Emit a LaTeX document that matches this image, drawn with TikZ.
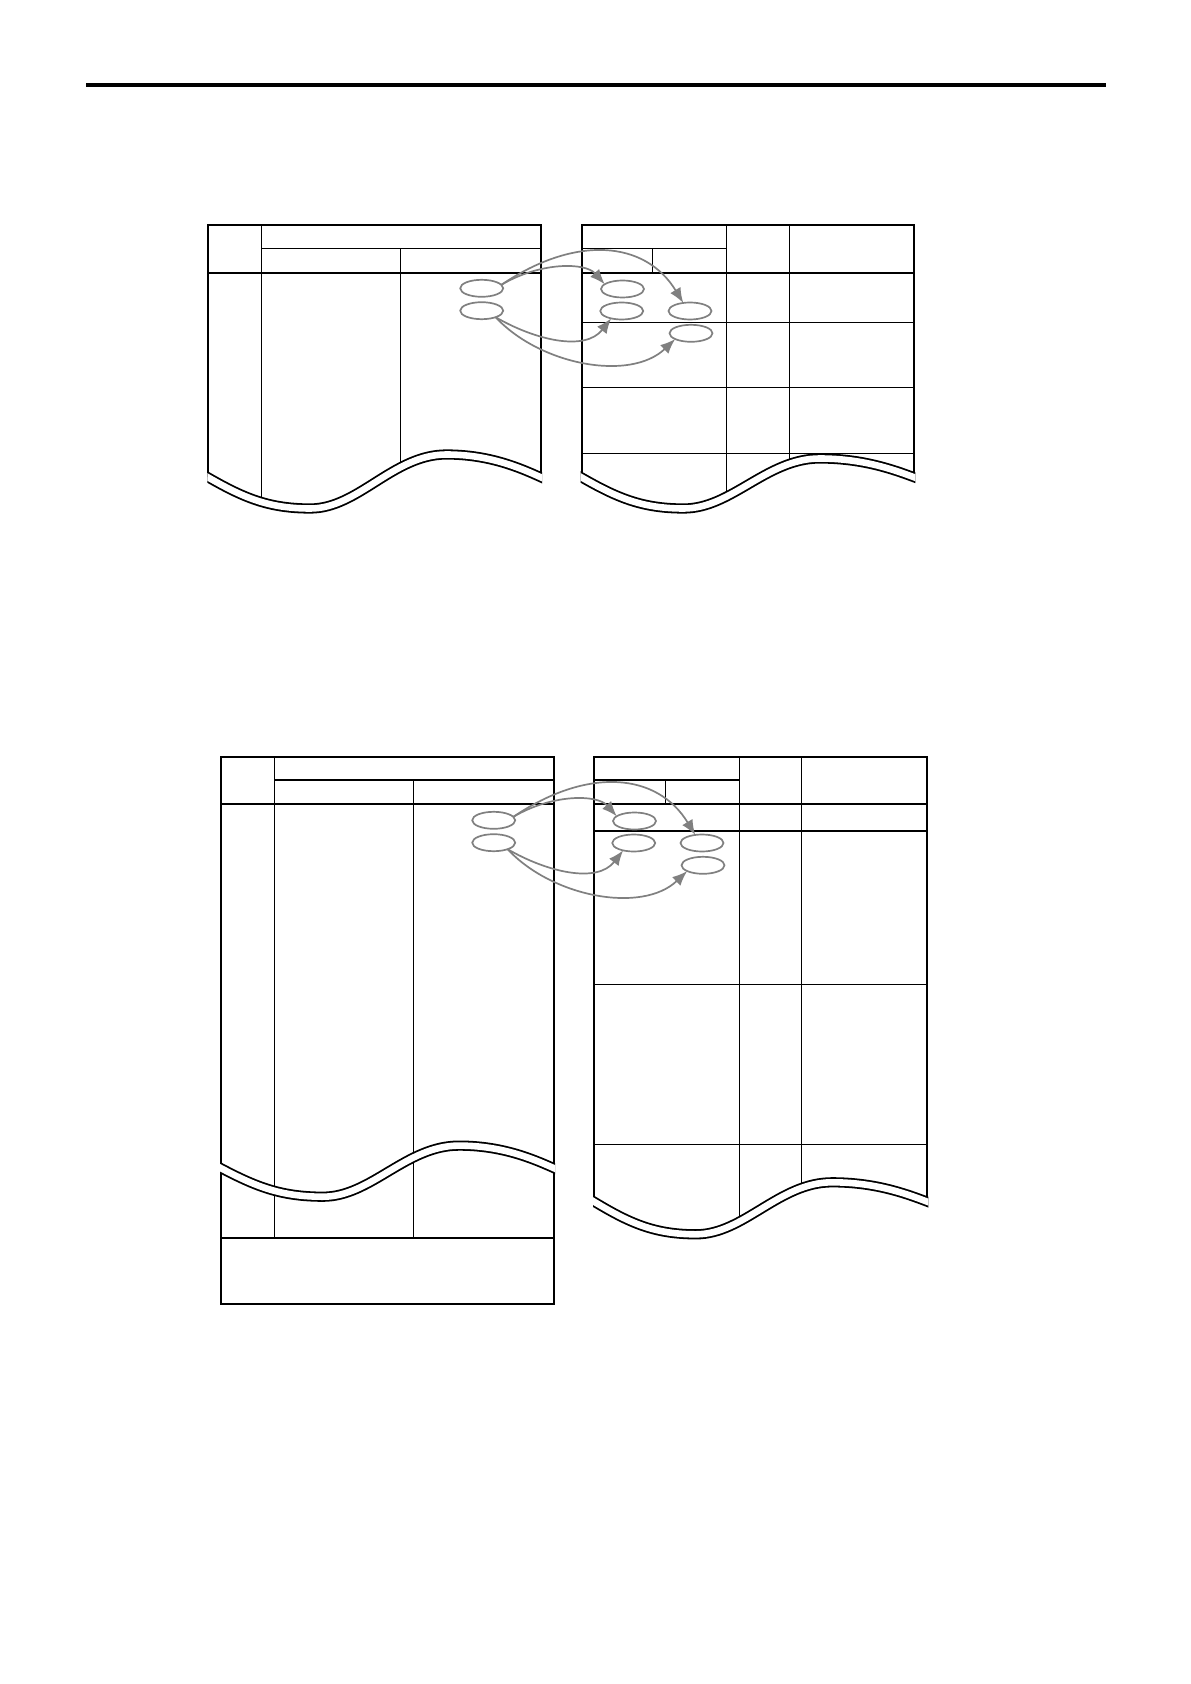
\documentclass[tikz,border=0pt]{standalone}
\usetikzlibrary{shapes.geometric,arrows.meta}
\definecolor{ovalgray}{RGB}{128,128,128}
\tikzset{
  border/.style={line width=0.95pt, line join=miter},
  thinline/.style={line width=0.6pt},
  headrule/.style={line width=1.1pt},
  oval/.style={ellipse, draw=ovalgray, line width=0.85pt, minimum width=21.5pt, minimum height=8.5pt, inner sep=0pt, outer sep=0pt},
  garrow/.style={draw=ovalgray, line width=0.85pt, -{Latex[length=7.5pt,width=6pt]}},
}
\newcommand\wavecurve[2]{(-17.5,{-0.3225*#1}) -- (0,0) .. controls (35,{0.645*#1}) and (60,#1) .. (102,#1) .. controls (150,#1) and (185,-#2) .. (238,-#2) .. controls (280,-#2) and (310,{-0.4545*#2}) .. (333,0) -- (356,{0.4545*#2})}
\newcommand\waveclip[4]{\clip[shift={(#1,#2)}] (-20,-600) -- \wavecurve{#3}{#4} -- (360,-600) -- cycle;}
\newcommand\waveband[5]{%
  \begin{scope}
    \clip ({#1-1},{#3-80}) rectangle ({#2+1},{#3+80});
    \draw[shift={(#1,#3)}, line width=5.1pt] \wavecurve{#4}{#5};
    \draw[shift={(#1,#3)}, white, line width=3.3pt] \wavecurve{#4}{#5};
  \end{scope}}
\newcommand\ovalgroup[1]{%
  \node[oval] (#1La) at (481.7,288.3) {};
  \node[oval] (#1Lb) at (481.7,310.7) {};
  \node[oval] (#1Ra) at (622.5,289) {};
  \node[oval] (#1Rb) at (621.7,311) {};
  \node[oval] (#1Rc) at (690,311) {};
  \node[oval] (#1Rd) at (691,333.3) {};
  \draw[garrow] (#1La.10) .. controls (540,262) and (585,262) .. (#1Ra.165);
  \draw[garrow] (#1La.10) .. controls (575,235) and (645,240) .. (#1Rc.130);
  \draw[garrow] (#1Lb.-25) .. controls (535,340) and (585,352) .. (#1Rb.215);
  \draw[garrow] (#1Lb.-25) .. controls (540,365) and (630,382) .. (#1Rd.200);
}
\begin{document}
\begin{tikzpicture}[x=0.5pt,y=-0.5pt]
\useasboundingbox (0,0) rectangle (1190,1684);
\fill[white] (0,0) rectangle (1190,1684);
% top rule
\draw[line width=1.75pt] (86,85) -- (1106,85);

% ---------- Table 1 left ----------
\begin{scope}
  \waveclip{208.3}{477.5}{31}{23}
  \draw[border] (208.3,540) -- (208.3,225) -- (541,225) -- (541,540);
  \draw[thinline] (261.7,225) -- (261.7,540);
  \draw[thinline] (261.7,248.3) -- (541,248.3);
  \draw[thinline] (400.3,248.3) -- (400.3,540);
  \draw[headrule] (208.3,272.7) -- (541,272.7);
\end{scope}
\waveband{208.3}{541}{477.5}{31}{23}

% ---------- Table 1 right ----------
\begin{scope}
  \waveclip{581.7}{477.5}{31}{19}
  \draw[border] (581.7,540) -- (581.7,225) -- (914.3,225) -- (914.3,540);
  \draw[thinline] (726.7,225) -- (726.7,540);
  \draw[thinline] (789.3,225) -- (789.3,540);
  \draw[thinline] (581.7,248.3) -- (726.7,248.3);
  \draw[thinline] (652.3,248.3) -- (652.3,272.7);
  \foreach \r in {322.3,387.3,453.3} \draw[thinline] (581.7,\r) -- (914.3,\r);
  \draw[headrule] (581.7,272.7) -- (914.3,272.7);
\end{scope}
\waveband{581.7}{914.3}{477.5}{31}{19}

% ---------- Table 2 left ----------
\draw[border] (221,756.7) rectangle (554,1304.3);
\draw[thinline] (274.3,756.7) -- (274.3,1238.3);
\draw[thinline] (274.3,780) -- (554,780);
\draw[thinline] (413.3,780) -- (413.3,1238.3);
\draw[headrule] (221,804) -- (554,804);
\draw[border] (221,1238.3) -- (554,1238.3);
\waveband{221}{554}{1168.2}{28.5}{22.6}

% ---------- Table 2 right ----------
\begin{scope}
  \waveclip{594}{1201.6}{32.7}{19.3}
  \draw[border] (594,1270) -- (594,756.7) -- (927.3,756.7) -- (927.3,1270);
  \draw[thinline] (739.3,756.7) -- (739.3,1270);
  \draw[thinline] (801.7,756.7) -- (801.7,1270);
  \draw[thinline] (594,780) -- (739.3,780);
  \draw[thinline] (665.7,780) -- (665.7,804);
  \foreach \r in {831,984.3,1144.3} \draw[thinline] (594,\r) -- (927.3,\r);
  \draw[headrule] (594,804) -- (927.3,804);
\end{scope}
\waveband{594}{927.3}{1201.6}{32.7}{19.3}

% ---------- ovals and arrows ----------
\ovalgroup{A}
\begin{scope}[shift={(12,532)}]
  \ovalgroup{B}
\end{scope}
\end{tikzpicture}
\end{document}
